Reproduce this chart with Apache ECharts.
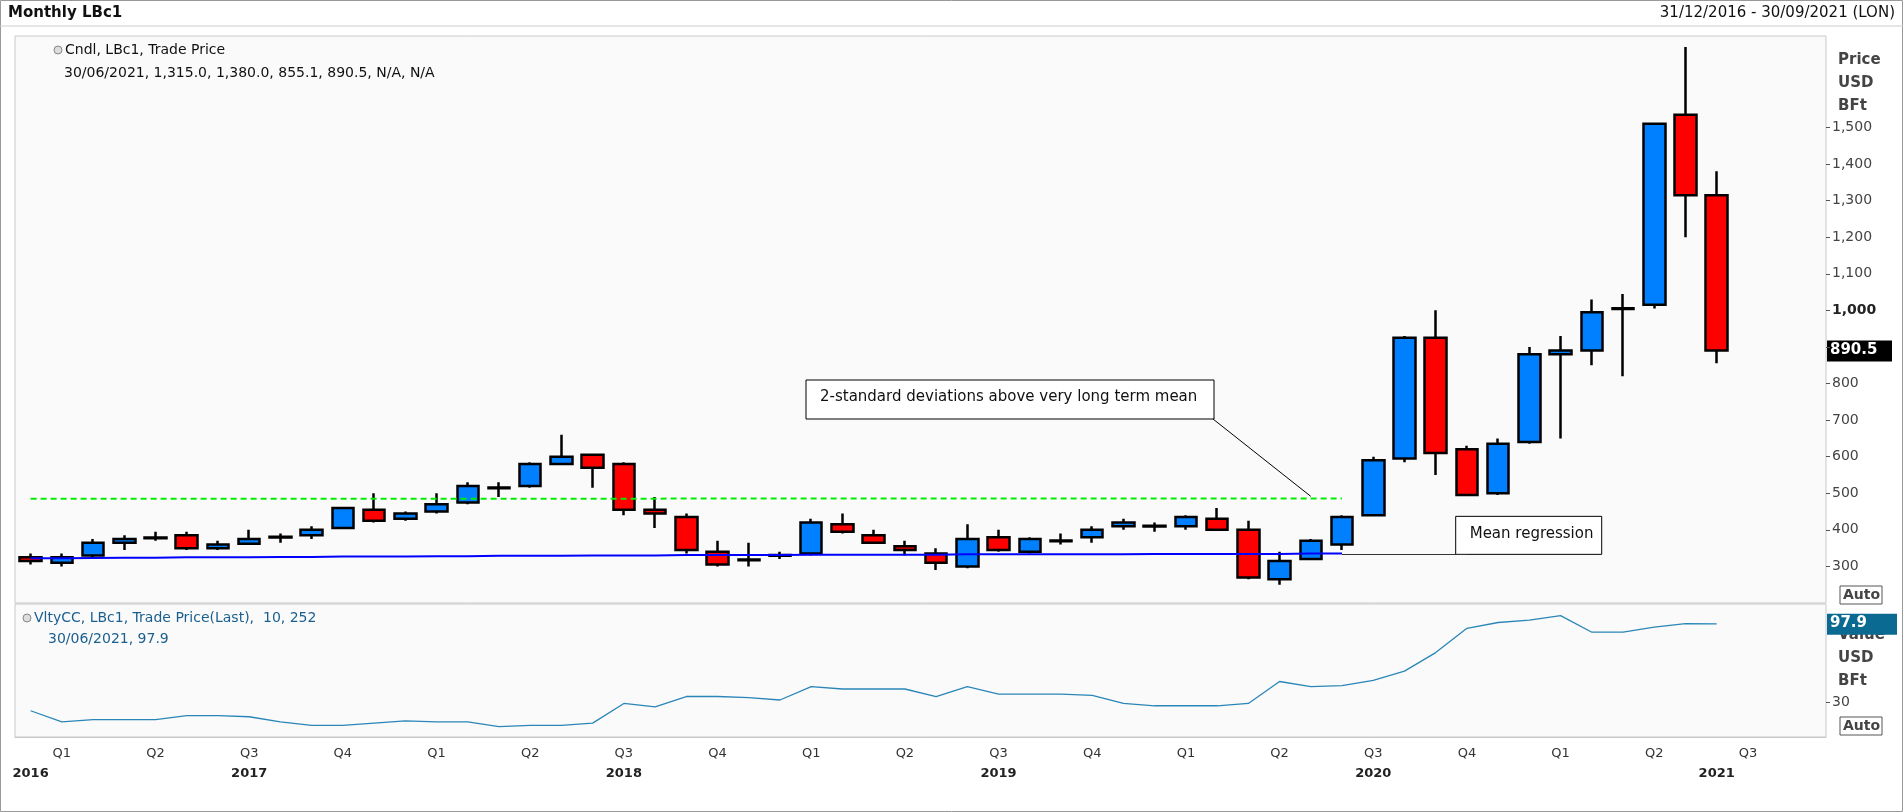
<!DOCTYPE html>
<html>
<head>
<meta charset="utf-8">
<script src="https://cdn.jsdelivr.net/npm/echarts@6/dist/echarts.min.js"></script>
<style>
  html, body { margin: 0; padding: 0; background: #fff; }
  #chart { width: 1903px; height: 812px; }
</style>
</head>
<body>
<div id="chart"></div>
<script>
// months Dec 2016 .. Sep 2021
const months = [
  'Dec 2016',
  'Jan 2017','Feb 2017','Mar 2017','Apr 2017','May 2017','Jun 2017','Jul 2017','Aug 2017','Sep 2017','Oct 2017','Nov 2017','Dec 2017',
  'Jan 2018','Feb 2018','Mar 2018','Apr 2018','May 2018','Jun 2018','Jul 2018','Aug 2018','Sep 2018','Oct 2018','Nov 2018','Dec 2018',
  'Jan 2019','Feb 2019','Mar 2019','Apr 2019','May 2019','Jun 2019','Jul 2019','Aug 2019','Sep 2019','Oct 2019','Nov 2019','Dec 2019',
  'Jan 2020','Feb 2020','Mar 2020','Apr 2020','May 2020','Jun 2020','Jul 2020','Aug 2020','Sep 2020','Oct 2020','Nov 2020','Dec 2020',
  'Jan 2021','Feb 2021','Mar 2021','Apr 2021','May 2021','Jun 2021','Jul 2021','Aug 2021','Sep 2021'
];

// [open, close, low, high]
const ohlc = [
  [325,315,305,335],
  [310,325,300,335],[330,365,325,375],[365,375,345,385],[377,379,370,395],[385,350,345,395],[350,360,345,370],
  [362,375,360,400],[379,381,365,390],[385,400,375,410],[405,460,405,462],[455,425,420,500],[430,445,425,450],
  [450,470,445,500],[475,520,470,530],[514,516,490,530],[520,580,515,585],[580,600,580,660],[605,570,515,605],
  [580,455,440,585],[455,445,405,490],[435,345,335,445],[340,305,300,370],[317,319,300,365],[329,331,320,340],
  [335,420,330,430],[415,395,390,445],[385,365,365,400],[355,345,330,370],[335,310,290,350],[300,375,295,415],
  [380,345,340,400],[340,375,335,380],[369,371,360,390],[380,400,365,410],[410,420,400,430],[409,411,395,420],
  [410,435,400,440],[430,400,400,460],[400,270,265,425],[265,315,250,340],[320,370,320,375],[360,435,345,440],
  [440,590,440,600],[595,925,585,930],[925,610,550,1000],[620,495,495,630],[500,635,495,650],[640,880,635,900],
  [880,890,650,930],[890,995,850,1030],[1004,1006,820,1045],[1015,1510,1005,1512],[1535,1315,1200,1720],[1315,890.5,855.1,1380]
];

const stdDevLine = [
  485,485,485,485,485,485,485,485,485,485,485,485,485,485,485,485,485,485,485,485,485,
  486,486,486,486,486,486,486,486,486,486,486,486,486,486,486,486,486,486,486,486,486,486
];
const meanLine = [
  322,322,323,324,324,325,325,325,326,326,327,327,327,328,328,329,329,329,330,330,330,
  331,331,331,331,332,332,332,332,332,333,333,333,333,333,333,334,334,334,334,334,335,335
];
const volatility = [
  22.7,13,15,15,15,18.5,18.5,17.5,13,10,10,12,14,13,13,9,10,10,12,29,26,35,35,34,32,
  43.6,41.5,41.5,41.5,35,43.6,37,37,37,36,29,27,27,27,29,48,43.6,44.5,49,57,73,94,99,101,
  105,90.6,90.6,95,98,97.9
];
const priceTicks = [300,400,500,600,700,800,900,1000,1100,1200,1300,1400,1500];
const lastPrice = 890.5;
const lastVol = 97.9;

const pad = arr => arr.concat(new Array(months.length - arr.length).fill(null));
const font = 'DejaVu Sans';
const qName = { Jan: 'Q1', Apr: 'Q2', Jul: 'Q3', Oct: 'Q4' };
const yearAt = { 0: '2016', 7: '2017', 19: '2018', 31: '2019', 43: '2020', 54: '2021' };

const chart = echarts.init(document.getElementById('chart'));

const option = {
  animation: false,
  backgroundColor: '#ffffff',
  textStyle: { fontFamily: font },
  grid: [
    { left: 15, right: 77, top: 36, height: 567, show: true, backgroundColor: '#fafafa', borderColor: '#c8c8c8', borderWidth: 1 },
    { left: 15, right: 77, top: 604, height: 133, show: true, backgroundColor: '#fafafa', borderColor: '#c8c8c8', borderWidth: 1 }
  ],
  xAxis: [
    { type: 'category', gridIndex: 0, data: months, boundaryGap: true,
      axisLine: { show: false }, axisTick: { show: false }, axisLabel: { show: false } },
    { type: 'category', gridIndex: 1, data: months, boundaryGap: true,
      axisLine: { lineStyle: { color: '#c8c8c8' } },
      axisTick: { alignWithLabel: false, length: 8, lineStyle: { color: '#444' },
        interval: i => months[i].startsWith('Jan') },
      axisLabel: { interval: 0, color: '#333', fontSize: 13, margin: 10,
        formatter: v => qName[v.slice(0, 3)] || '' } },
    { type: 'category', gridIndex: 1, data: months, boundaryGap: true, position: 'bottom', offset: 22,
      axisLine: { show: false }, axisTick: { show: false },
      axisLabel: { interval: 0, color: '#222', fontSize: 13, fontWeight: 'bold', margin: 8,
        formatter: (v, i) => yearAt[i] || '' } }
  ],
  yAxis: [
    { type: 'value', gridIndex: 0, position: 'right', min: 200, max: 1750, interval: 100,
      splitLine: { show: false }, axisLine: { show: false },
      axisTick: { show: true, length: 4, customValues: priceTicks, lineStyle: { color: '#555' } },
      axisLabel: { color: '#444', fontSize: 14, margin: 6, customValues: priceTicks,
        formatter: v => v === 900 ? '' : (v === 1000 ? '{b|1,000}' : v.toLocaleString('en-US')),
        rich: { b: { fontWeight: 'bold', fontSize: 14, color: '#222' } } } },
    { type: 'value', gridIndex: 1, position: 'right', min: 0, max: 115,
      splitLine: { show: false }, axisLine: { show: false },
      axisTick: { show: true, length: 4, customValues: [30], lineStyle: { color: '#555' } },
      axisLabel: { color: '#444', fontSize: 14, margin: 6, customValues: [30] } }
  ],
  series: [
    { type: 'candlestick', xAxisIndex: 0, yAxisIndex: 0, data: ohlc, barWidth: 22,
      itemStyle: { color: '#0080ff', color0: '#ff0000', borderColor: '#000', borderColor0: '#000', borderWidth: 2.5 } },
    { type: 'line', xAxisIndex: 0, yAxisIndex: 0, data: pad(stdDevLine), symbol: 'none',
      lineStyle: { color: '#00ee00', width: 2, type: [6, 4] } },
    { type: 'line', xAxisIndex: 0, yAxisIndex: 0, data: pad(meanLine), symbol: 'none',
      lineStyle: { color: '#0000ff', width: 2 },
      markLine: { symbol: 'none', silent: true, label: { show: false },
        lineStyle: { color: '#333', width: 1, type: 'solid' },
        data: [[{ coord: [42.4, 333] }, { coord: [45.8, 333] }]] } },
    { type: 'line', xAxisIndex: 1, yAxisIndex: 1, data: pad(volatility), symbol: 'none',
      lineStyle: { color: '#2a86b8', width: 1.3 } }
  ]
};
chart.setOption(option);

// overlay texts, annotation boxes and price tags
const pY = chart.convertToPixel({ yAxisIndex: 0 }, lastPrice);
const vY = chart.convertToPixel({ yAxisIndex: 1 }, lastVol);
const stdPt = chart.convertToPixel({ xAxisIndex: 0, yAxisIndex: 0 }, [41.4, 486]);
const meanBoxX = chart.convertToPixel({ xAxisIndex: 0 }, months[45]) + 20;
const meanBoxY = chart.convertToPixel({ yAxisIndex: 0 }, 333);
const txt = (x, y, t, extra) => ({ type: 'text', x, y, style: Object.assign({ text: t, fontFamily: font, fontSize: 14, fill: '#111' }, extra || {}) });

chart.setOption({
  graphic: [
    { type: 'rect', shape: { x: 0.5, y: 0.5, width: 1902, height: 811 }, style: { fill: 'none', stroke: '#999' } },
    { type: 'line', shape: { x1: 0, y1: 26, x2: 1903, y2: 26 }, style: { stroke: '#ccc' } },
    txt(8, 6, 'Monthly LBc1', { fontWeight: 'bold', fontSize: 15 }),
    txt(1895, 6, '31/12/2016 - 30/09/2021 (LON)', { align: 'right', fontSize: 15 }),
    { type: 'circle', shape: { cx: 58, cy: 50, r: 4 }, style: { fill: '#ddd', stroke: '#888' } },
    txt(65, 43, 'Cndl, LBc1, Trade Price'),
    txt(64, 66, '30/06/2021, 1,315.0, 1,380.0, 855.1, 890.5, N/A, N/A'),
    { type: 'circle', shape: { cx: 27, cy: 618, r: 4 }, style: { fill: '#ddd', stroke: '#888' } },
    txt(34, 611, 'VltyCC, LBc1, Trade Price(Last),  10, 252', { fill: '#1a5f8f' }),
    txt(48, 632, '30/06/2021, 97.9', { fill: '#1a5f8f' }),
    txt(1838, 49, 'Price\nUSD\nBFt', { fontWeight: 'bold', fontSize: 15, fill: '#444', lineHeight: 23 }),
    txt(1838, 624, 'Value\nUSD\nBFt', { fontWeight: 'bold', fontSize: 15, fill: '#444', lineHeight: 23 }),
    { type: 'rect', shape: { x: 1840, y: 586, width: 42, height: 18 }, style: { fill: '#fff', stroke: '#555' } },
    txt(1843, 588, 'Auto', { fontWeight: 'bold', fill: '#444' }),
    { type: 'rect', shape: { x: 1840, y: 717, width: 42, height: 18 }, style: { fill: '#fff', stroke: '#555' } },
    txt(1843, 719, 'Auto', { fontWeight: 'bold', fill: '#444' }),
    { type: 'rect', shape: { x: 1827, y: pY - 10, width: 65, height: 21 }, style: { fill: '#000' } },
    txt(1830, pY - 8, '890.5', { fill: '#fff', fontWeight: 'bold', fontSize: 15 }),
    { type: 'rect', shape: { x: 1827, y: vY - 10, width: 70, height: 21 }, style: { fill: '#0a6a92' } },
    txt(1830, vY - 8, '97.9', { fill: '#fff', fontWeight: 'bold', fontSize: 15 }),
    // annotation: standard deviation
    { type: 'rect', shape: { x: 806, y: 380, width: 408, height: 39 }, style: { fill: '#fff', stroke: '#000', lineWidth: 1 } },
    txt(820, 390, '2-standard deviations above very long term mean', { fontSize: 15 }),
    { type: 'line', shape: { x1: 1213, y1: 419, x2: stdPt[0], y2: stdPt[1] - 2 }, style: { stroke: '#000', lineWidth: 1 } },
    // annotation: mean regression
    { type: 'rect', shape: { x: meanBoxX, y: meanBoxY - 38, width: 146, height: 38 }, style: { fill: '#fff', stroke: '#000', lineWidth: 1 } },
    txt(meanBoxX + 14, meanBoxY - 28, 'Mean regression', { fontSize: 15 })
  ]
});
</script>
</body>
</html>
